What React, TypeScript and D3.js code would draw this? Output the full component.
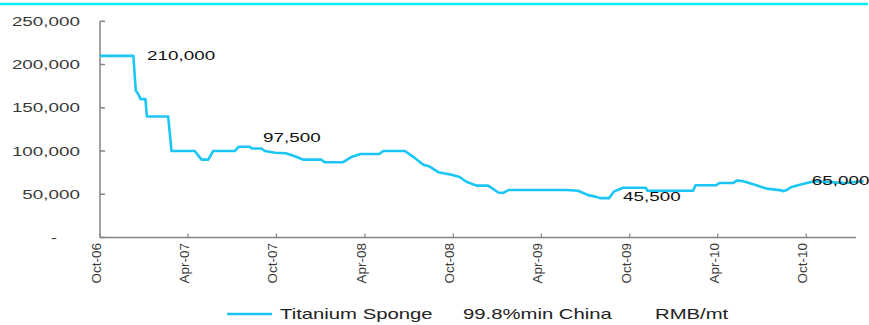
import React from "react";
import * as d3 from "d3";

// Titanium sponge price, 99.8% min, China (RMB/mt)
const priceDates = [
  "2006-10-01", "2006-12-09", "2006-12-14", "2006-12-19", "2006-12-24", "2007-01-03",
  "2007-01-06", "2007-02-19", "2007-02-26", "2007-04-15", "2007-04-29", "2007-05-13",
  "2007-05-23", "2007-07-07", "2007-07-15", "2007-08-07", "2007-08-11", "2007-08-31",
  "2007-09-07", "2007-09-28", "2007-10-20", "2007-10-29", "2007-11-12", "2007-11-25",
  "2008-01-02", "2008-01-09", "2008-02-15", "2008-03-04", "2008-03-23", "2008-05-01",
  "2008-05-09", "2008-06-23", "2008-06-29", "2008-07-13", "2008-07-31", "2008-08-13",
  "2008-08-31", "2008-09-27", "2008-10-14", "2008-10-28", "2008-11-18", "2008-12-12",
  "2009-01-02", "2009-01-12", "2009-01-24", "2009-05-23", "2009-06-16", "2009-07-07",
  "2009-07-24", "2009-07-31", "2009-08-19", "2009-08-29", "2009-09-06", "2009-09-17",
  "2009-11-03", "2009-11-07", "2010-02-09", "2010-02-14", "2010-03-29", "2010-04-04",
  "2010-05-03", "2010-05-11", "2010-05-19", "2010-05-31", "2010-06-20", "2010-07-11",
  "2010-08-11", "2010-08-14", "2010-08-22", "2010-09-01", "2010-09-14", "2010-10-02",
  "2010-10-19", "2010-11-19", "2010-12-20", "2011-01-28",
];
const priceValues = [
  210000, 210000, 170000, 166000, 160000, 160000,
  140000, 140000, 100000, 100000, 90000, 90000,
  100000, 100000, 105000, 105000, 103000, 103000,
  100000, 98000, 97500, 96000, 93000, 90000,
  90000, 87000, 87000, 93000, 96500, 96500,
  100000, 100000, 97500, 92000, 84000, 82000,
  75500, 72500, 70000, 64500, 60000, 60000,
  52000, 51500, 55000, 55000, 54000, 49000,
  47000, 45500, 45500, 53000, 55000, 57500,
  57500, 54000, 54000, 60500, 60500, 63000,
  63000, 66000, 65500, 64000, 60500, 56500,
  54500, 53500, 55000, 58500, 60500, 63000,
  65000, 64000, 63000, 65000,
];

// Annotated points (date, value)
const noteDates = ["2006-10-01", "2007-10-20", "2009-08-19", "2011-01-28"];
const noteValues = [210000, 97500, 45500, 65000];

const xTickLabels = ["Oct-06", "Apr-07", "Oct-07", "Apr-08", "Oct-08", "Apr-09", "Oct-09", "Apr-10", "Oct-10"];
const yTickValues = [0, 50000, 100000, 150000, 200000, 250000];
const seriesName = ["Titanium Sponge", "99.8%min China", "RMB/mt"];

const parseDay = d3.timeParse("%Y-%m-%d");
const parseTick = d3.timeParse("%b-%y");

const W = 869;
const H = 325;
const FONT = "'Liberation Sans', Arial, sans-serif";
const LINE = "#1cc6f4";
const AXIS = "#858585";
const SX = 1.45;

export default function App() {
  const x = d3
    .scaleTime()
    .domain([parseDay("2006-10-01")!, parseDay("2011-01-12")!])
    .range([100, 856]);
  const y = d3.scaleLinear().domain([0, 250000]).range([237.5, 21.3]);

  const points = priceDates.map((d, i) => ({ date: parseDay(d)!, value: priceValues[i] }));
  const path = d3
    .line<{ date: Date; value: number }>()
    .x((p) => x(p.date))
    .y((p) => y(p.value))(points);

  const fmt = d3.format(",");
  const notes = noteDates.map((d, i) => ({ date: parseDay(d)!, value: noteValues[i] }));
  // label offsets from their points
  const noteOffsets = [
    [47, 4],
    [-22.5, -11.5],
    [14, 3],
    [-52, 4],
  ];

  const legendX = [280, 463, 655];

  return (
    <>
      <style>{"body{margin:0}"}</style>
      <svg width={W} height={H} style={{ display: "block", background: "#fff" }} fontFamily={FONT}>
        {/* top rule */}
        <line x1={0} x2={868} y1={4} y2={4} stroke="#00ecf2" strokeWidth={2.5} />

        {/* y axis */}
        <line x1={100} x2={100} y1={y(250000)} y2={y(0)} stroke={AXIS} strokeWidth={1.5} />
        {yTickValues.map((v) => (
          <g key={v}>
            <line x1={100} x2={105} y1={y(v)} y2={y(v)} stroke={AXIS} strokeWidth={1.5} />
            <text
              transform={`translate(${v === 0 ? 57 : 80},${y(v) + 4.6}) scale(${SX},1)`}
              textAnchor="end"
              fontSize={13}
              fill="#3a3a3a"
            >
              {v === 0 ? "-" : fmt(v)}
            </text>
          </g>
        ))}

        {/* x axis */}
        <line x1={100} x2={856} y1={y(0)} y2={y(0)} stroke={AXIS} strokeWidth={1.5} />
        {xTickLabels.map((lab) => {
          const tx = x(parseTick(lab)!);
          return (
            <g key={lab}>
              <line x1={tx} x2={tx} y1={y(0)} y2={y(0) - 4} stroke={AXIS} strokeWidth={1.2} />
              <text
                transform={`translate(${tx + 1},243) rotate(-90)`}
                textAnchor="end"
                fontSize={13.5}
                fill="#3a3a3a"
              >
                {lab}
              </text>
            </g>
          );
        })}

        {/* price line */}
        <path d={path ?? ""} fill="none" stroke={LINE} strokeWidth={2.6} strokeLinejoin="round" />

        {/* value labels */}
        {notes.map((n, i) => (
          <text
            key={i}
            transform={`translate(${x(n.date) + noteOffsets[i][0]},${y(n.value) + noteOffsets[i][1]}) scale(${SX},1)`}
            fontSize={13}
            fill="#111"
          >
            {fmt(n.value)}
          </text>
        ))}

        {/* legend */}
        <line x1={227} x2={272} y1={314} y2={314} stroke={LINE} strokeWidth={2.6} />
        {seriesName.map((s, i) => (
          <text
            key={s}
            transform={`translate(${legendX[i]},319) scale(${SX},1)`}
            fontSize={14}
            fill="#222"
          >
            {s}
          </text>
        ))}
      </svg>
    </>
  );
}
